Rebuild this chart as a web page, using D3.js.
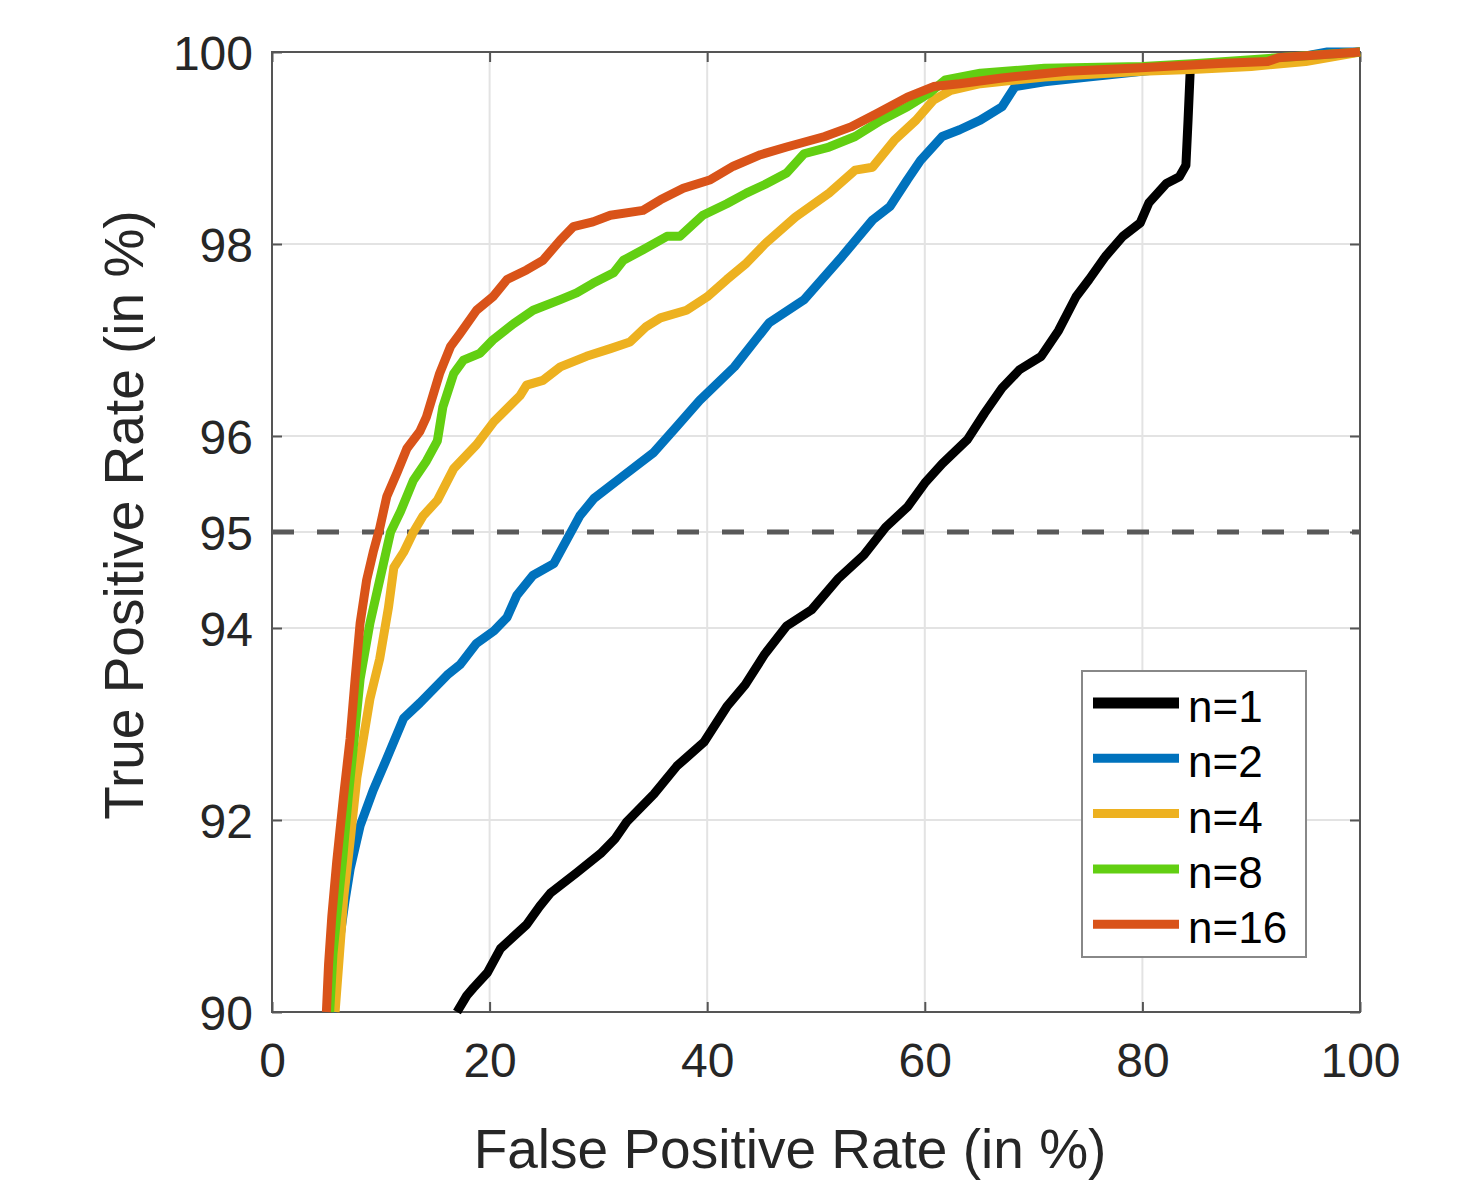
<!DOCTYPE html>
<html>
<head>
<meta charset="utf-8">
<script src="https://cdn.jsdelivr.net/npm/d3@7"></script>
<style>
  html, body { margin: 0; padding: 0; background: #fff; }
  text { font-family: "Liberation Sans", Arial, Helvetica, sans-serif; fill: #262626; }
</style>
</head>
<body>
<div id="chart"></div>
<script>
// ROC curves, values: [FPR %, TPR %]
const n1 = [[17.0,90.0],[17.9,90.17],[18.5,90.25],[19.8,90.41],[21.0,90.66],[23.4,90.91],[24.6,91.1],[25.6,91.24],[28.0,91.45],[30.2,91.65],[31.5,91.8],[32.6,91.98],[35.1,92.27],[37.2,92.56],[39.7,92.81],[41.8,93.18],[43.5,93.41],[45.3,93.73],[47.3,94.02],[49.6,94.19],[52.0,94.51],[54.4,94.76],[56.4,95.05],[58.4,95.26],[60.0,95.51],[61.6,95.71],[63.9,95.96],[65.5,96.24],[67.1,96.5],[68.7,96.69],[70.7,96.83],[72.3,97.1],[73.9,97.45],[75.1,97.63],[76.6,97.87],[78.2,98.08],[79.8,98.22],[80.6,98.43],[82.2,98.63],[83.4,98.7],[84.0,98.82],[84.2,99.3],[84.4,99.82],[86,99.85],[90,99.89],[95,99.94],[100,100]];
const n2 = [[5.5,90.0],[5.9,90.5],[6.26,90.79],[6.7,91.15],[7.18,91.49],[8.1,91.94],[9.3,92.31],[10.55,92.64],[12.1,93.06],[13.6,93.22],[16.1,93.51],[17.3,93.62],[18.8,93.84],[20.4,93.97],[21.6,94.11],[22.5,94.34],[24.0,94.55],[25.9,94.67],[27.1,94.92],[28.3,95.17],[29.6,95.35],[32.0,95.56],[35.1,95.83],[37.2,96.1],[39.3,96.37],[42.5,96.72],[45.7,97.18],[48.9,97.42],[52.4,97.87],[55.2,98.25],[56.8,98.39],[58.4,98.67],[59.6,98.87],[61.6,99.12],[63.2,99.19],[65.1,99.29],[67.1,99.43],[68.3,99.64],[71.0,99.69],[75.0,99.74],[80,99.8],[85,99.86],[90,99.9],[95,99.96],[97,100],[100,100]];
const n4 = [[5.8,90.0],[6.2,90.6],[6.6,91.2],[7.2,91.8],[7.8,92.44],[9.0,93.26],[9.9,93.68],[10.7,94.21],[11.2,94.63],[12.1,94.79],[13.0,95.0],[13.9,95.17],[15.2,95.33],[16.7,95.66],[18.8,95.91],[20.4,96.15],[22.8,96.42],[23.4,96.53],[24.9,96.58],[26.5,96.72],[28.9,96.83],[31.1,96.91],[32.9,96.98],[34.4,97.14],[35.7,97.23],[38.1,97.31],[40.0,97.45],[41.8,97.63],[43.6,97.8],[45.3,98.0],[48.1,98.28],[51.2,98.53],[53.6,98.77],[55.2,98.8],[57.2,99.08],[59.2,99.29],[60.8,99.5],[62.4,99.6],[65.1,99.67],[71.0,99.74],[80,99.8],[85,99.82],[90,99.85],[95,99.9],[100,100]];
const n8 = [[5.3,90.0],[5.6,90.6],[5.95,91.0],[6.5,91.6],[7.0,92.23],[7.6,92.9],[8.1,93.47],[9.0,94.05],[9.9,94.5],[10.9,95.0],[11.8,95.21],[13.0,95.54],[14.2,95.74],[15.2,95.95],[15.7,96.3],[16.7,96.65],[17.6,96.79],[19.1,96.86],[20.3,97.0],[22.2,97.17],[24.0,97.31],[26.5,97.42],[28.0,97.49],[29.5,97.59],[31.4,97.7],[32.3,97.83],[34.1,97.94],[36.3,98.08],[37.5,98.08],[39.6,98.3],[41.8,98.42],[43.6,98.53],[45.3,98.62],[47.3,98.74],[48.9,98.94],[51.2,99.01],[53.6,99.12],[56.0,99.29],[58.4,99.43],[60.4,99.57],[61.9,99.71],[65.1,99.78],[71.0,99.83],[80,99.85],[85,99.88],[90,99.92],[95,99.96],[100,100]];
const n16 = [[5.0,90.0],[5.2,90.5],[5.5,91.0],[5.95,91.57],[6.56,92.23],[7.18,92.85],[7.64,93.47],[8.1,94.05],[8.7,94.5],[9.3,94.79],[9.9,95.04],[10.55,95.37],[11.5,95.62],[12.4,95.87],[13.6,96.05],[14.2,96.2],[15.4,96.65],[16.4,96.93],[17.3,97.07],[18.8,97.31],[20.3,97.45],[21.6,97.63],[23.4,97.73],[24.9,97.83],[26.5,98.04],[27.7,98.18],[29.5,98.23],[31.1,98.3],[34.1,98.35],[35.7,98.46],[37.8,98.58],[40.3,98.67],[42.4,98.81],[44.9,98.93],[47.3,99.01],[50.8,99.12],[53.2,99.22],[55.6,99.36],[58.4,99.53],[60.8,99.64],[63.2,99.67],[67.1,99.73],[73.1,99.8],[79.0,99.83],[87.0,99.88],[91.5,99.9],[92.5,99.94],[100,100]];

const seriesNames = ['n=1', 'n=2', 'n=4', 'n=8', 'n=16'];
const seriesData = [n1, n2, n4, n8, n16];
const seriesColors = ['#000000', '#0072bd', '#edb120', '#62cf12', '#d95319'];

const xTicks = [0, 20, 40, 60, 80, 100];
const yTicks = [90, 92, 94, 95, 96, 98, 100];
const threshold = 95;

const width = 1472;
const height = 1184;
const plotLeft = 272, plotRight = 1360, plotTop = 52, plotBottom = 1012;

const svg = d3.select('#chart')
  .append('svg')
  .attr('width', width)
  .attr('height', height);

const x = d3.scaleLinear().domain([0, 100]).range([plotLeft, plotRight]);
const y = d3.scaleLinear().domain([90, 100]).range([plotBottom, plotTop]);

// grid
svg.append('g')
  .selectAll('line')
  .data(xTicks.slice(1, -1))
  .enter().append('line')
  .attr('x1', d => x(d)).attr('x2', d => x(d))
  .attr('y1', plotTop).attr('y2', plotBottom)
  .style('stroke', '#e3e3e3')
  .style('stroke-width', 2);

svg.append('g')
  .selectAll('line')
  .data(yTicks.slice(1, -1))
  .enter().append('line')
  .attr('x1', plotLeft).attr('x2', plotRight)
  .attr('y1', d => y(d)).attr('y2', d => y(d))
  .style('stroke', '#e3e3e3')
  .style('stroke-width', 2);

// axes, ticks point inward
const xAxis = svg.append('g')
  .attr('transform', 'translate(0,' + plotBottom + ')')
  .call(d3.axisBottom(x).tickValues(xTicks).tickSizeInner(-10).tickSizeOuter(0).tickPadding(31));
const yAxis = svg.append('g')
  .attr('transform', 'translate(' + plotLeft + ',0)')
  .call(d3.axisLeft(y).tickValues(yTicks).tickSizeInner(-10).tickSizeOuter(0).tickPadding(19));
svg.append('g')
  .attr('transform', 'translate(0,' + plotTop + ')')
  .call(d3.axisTop(x).tickValues(xTicks).tickSizeInner(-10).tickSizeOuter(0).tickFormat(''));
svg.append('g')
  .attr('transform', 'translate(' + plotRight + ',0)')
  .call(d3.axisRight(y).tickValues(yTicks).tickSizeInner(-10).tickSizeOuter(0).tickFormat(''));

svg.selectAll('.domain').remove();
svg.selectAll('.tick line').style('stroke', '#555').style('stroke-width', 2);
xAxis.selectAll('text').style('font-size', '48px').style('fill', '#262626');
yAxis.selectAll('text').style('font-size', '48px').style('fill', '#262626').attr('dy', '0.36em');

svg.append('rect')
  .attr('x', plotLeft).attr('y', plotTop)
  .attr('width', plotRight - plotLeft).attr('height', plotBottom - plotTop)
  .style('fill', 'none')
  .style('stroke', '#555')
  .style('stroke-width', 2);

// 95% threshold
svg.append('line')
  .attr('x1', plotLeft).attr('x2', plotRight)
  .attr('y1', y(threshold)).attr('y2', y(threshold))
  .style('stroke', '#595959')
  .style('stroke-width', 5)
  .style('stroke-dasharray', '22,23');

// curves
const line = d3.line().x(d => x(d[0])).y(d => y(d[1]));

svg.append('g')
  .selectAll('path')
  .data(seriesData)
  .enter().append('path')
  .attr('d', line)
  .style('fill', 'none')
  .style('stroke', (d, i) => seriesColors[i])
  .style('stroke-width', 9)
  .style('stroke-linejoin', 'round');

// axis titles
svg.append('text')
  .attr('x', 790).attr('y', 1168)
  .attr('text-anchor', 'middle')
  .style('font-size', '55px')
  .text('False Positive Rate (in %)');

svg.append('text')
  .attr('transform', 'translate(143,515) rotate(-90)')
  .attr('text-anchor', 'middle')
  .style('font-size', '55px')
  .text('True Positive Rate (in %)');

// legend
const legend = svg.append('g');
legend.append('rect')
  .attr('x', 1082).attr('y', 671)
  .attr('width', 224).attr('height', 286)
  .style('fill', '#fff')
  .style('stroke', '#888')
  .style('stroke-width', 2);

const rows = legend.selectAll('g.row')
  .data(seriesNames)
  .enter().append('g')
  .attr('class', 'row')
  .attr('transform', (d, i) => 'translate(0,' + (703 + i * 55.3) + ')');

rows.append('line')
  .attr('x1', 1093).attr('x2', 1179)
  .attr('y1', 0).attr('y2', 0)
  .style('stroke', (d, i) => seriesColors[i])
  .style('stroke-width', (d, i) => i === 0 ? 11 : 9);

rows.append('text')
  .attr('x', 1188).attr('y', 19)
  .style('font-size', '44px')
  .style('fill', '#000')
  .text(d => d);
</script>
</body>
</html>
